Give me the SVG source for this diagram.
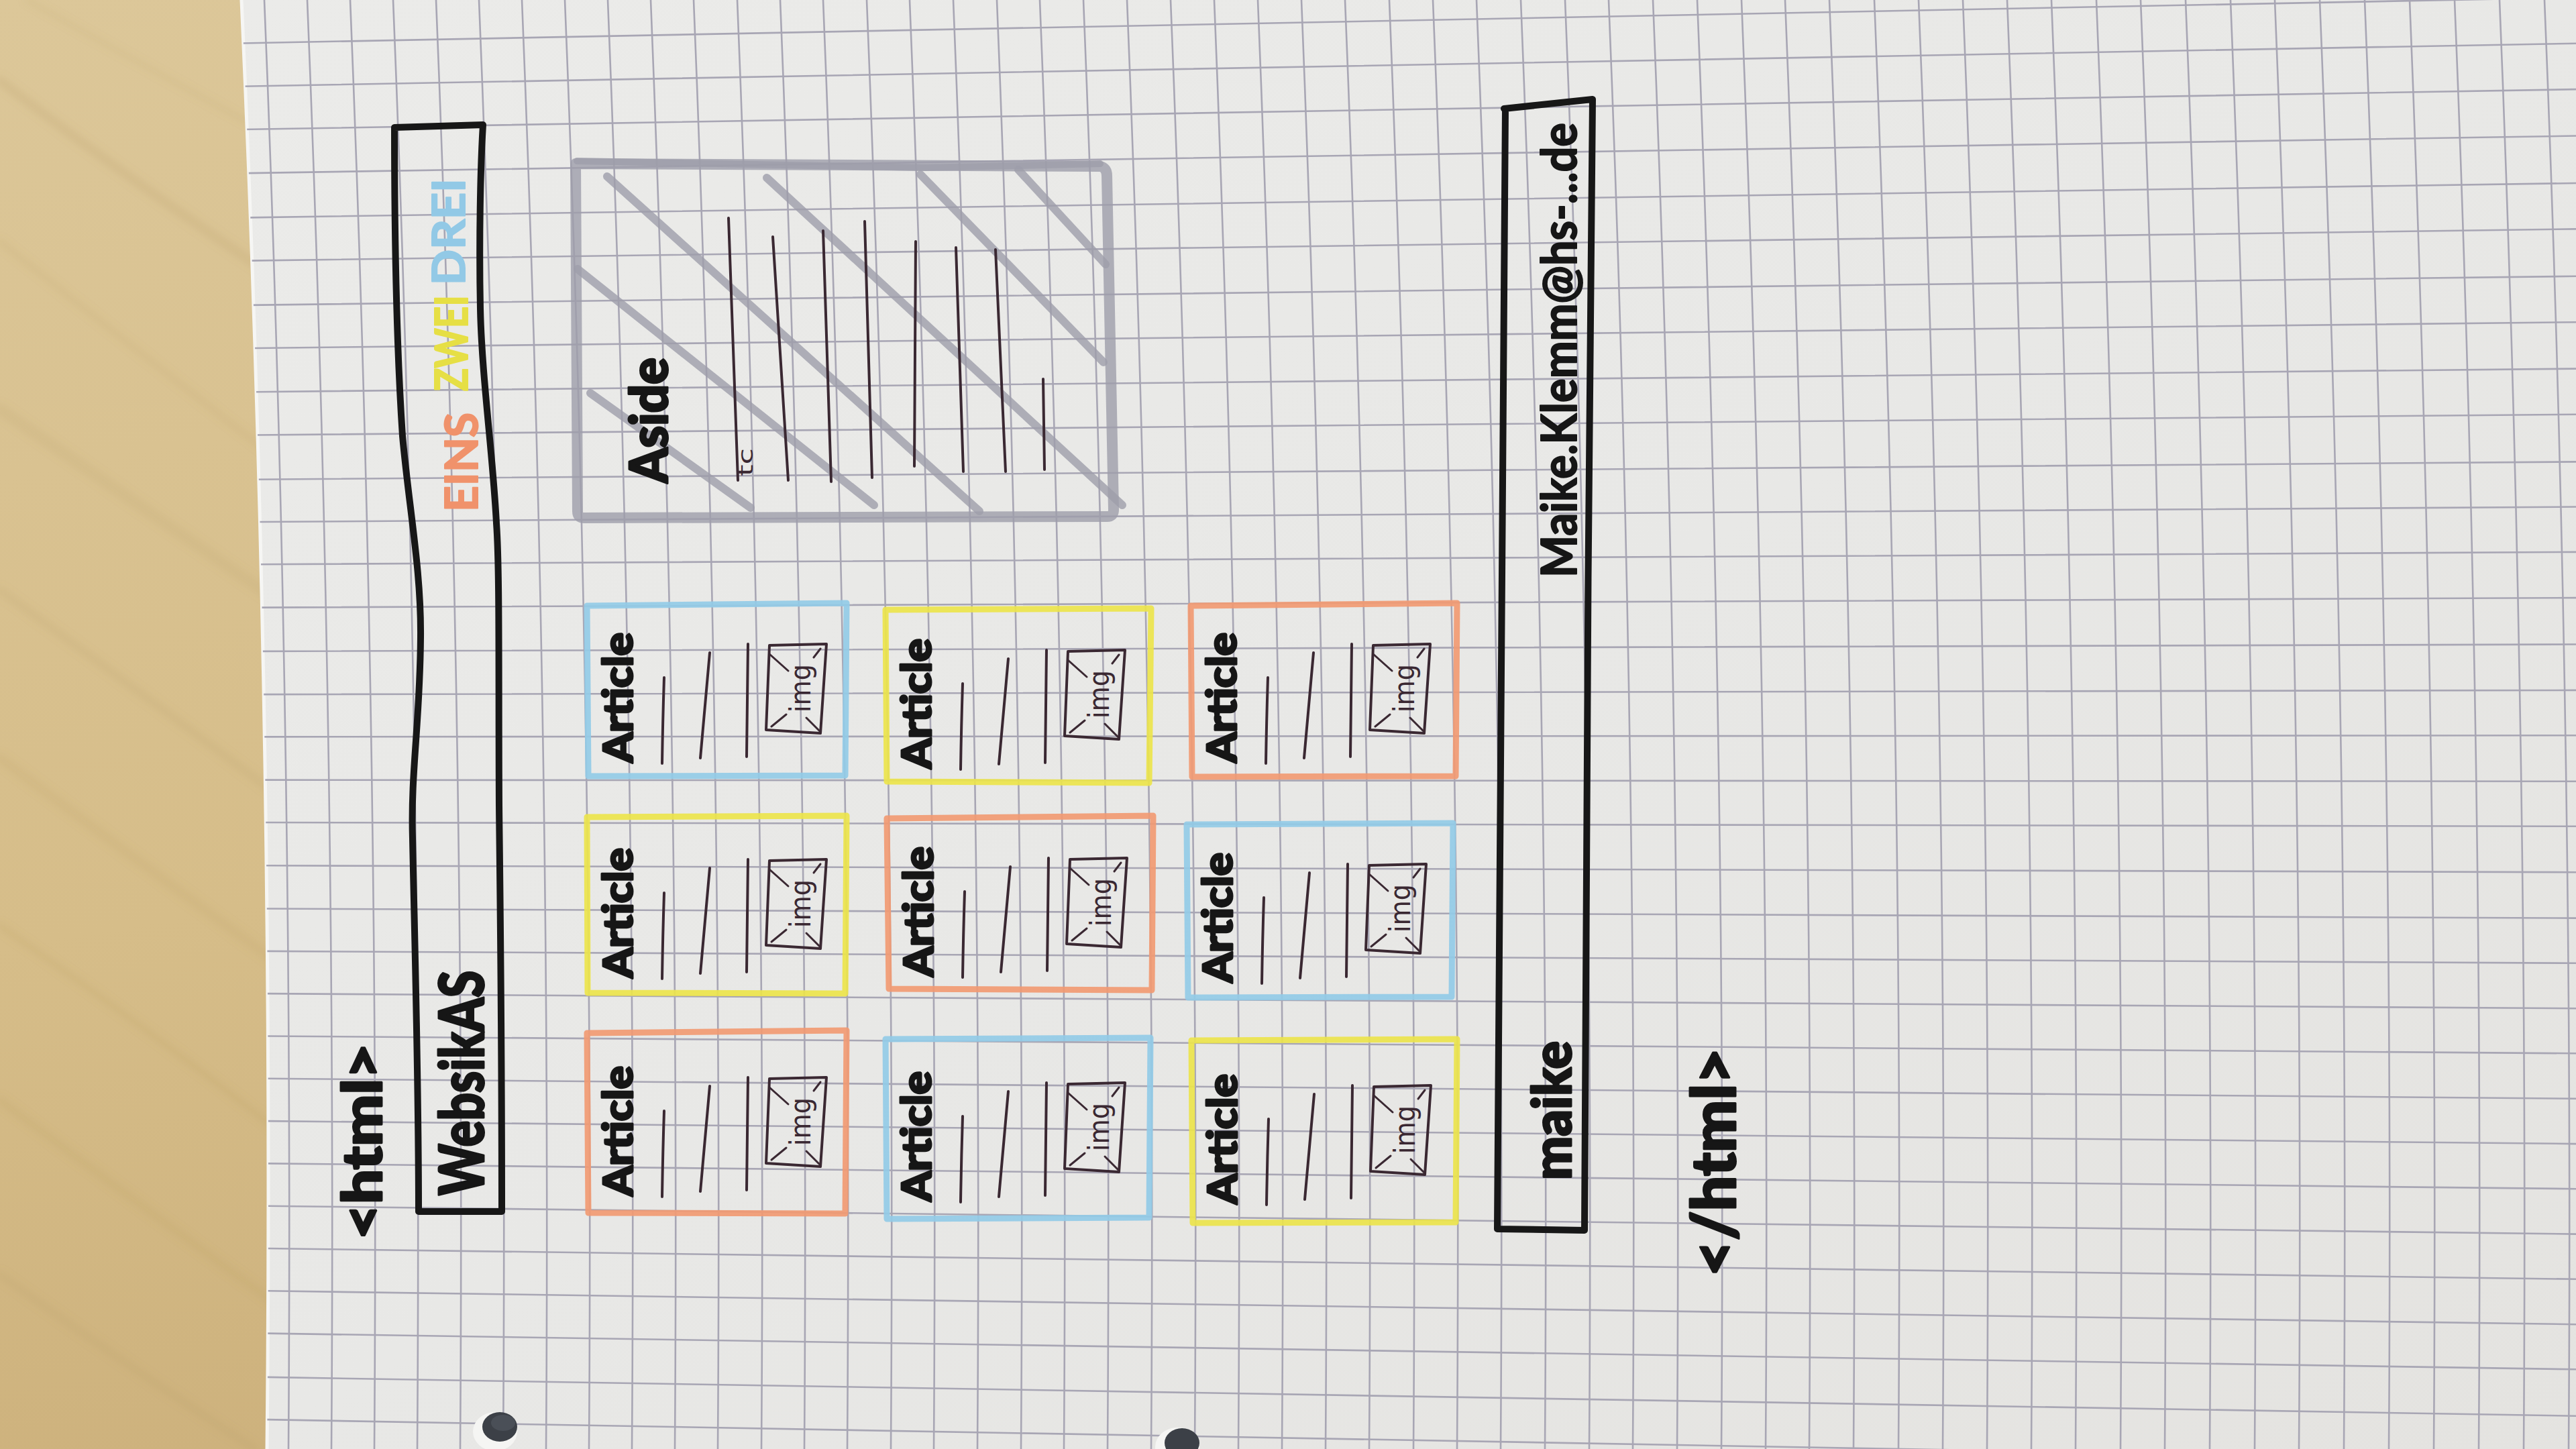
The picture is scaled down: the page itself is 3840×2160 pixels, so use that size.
<svg xmlns="http://www.w3.org/2000/svg" xmlns:xlink="http://www.w3.org/1999/xlink" width="3840" height="2160" viewBox="0 0 3840 2160">
  <defs>
    <style>
      .grid{fill:none;stroke:#a8a6b4;stroke-width:2.6}
      .grain{fill:none;stroke:#b09257;stroke-linecap:round}
      .ink{font-family:Lato,"DejaVu Sans",sans-serif;font-weight:900;fill:#161616;stroke:#161616;stroke-width:3;stroke-linejoin:round}
      .inkm{font-family:Lato,"DejaVu Sans",sans-serif;font-weight:700;fill:#161616;stroke:#161616;stroke-width:2;stroke-linejoin:round}
      .hand{font-family:"DejaVu Sans",sans-serif;font-weight:400;fill:#3a2832}
      .col{font-family:Lato,"DejaVu Sans",sans-serif;font-weight:700;stroke-width:2;stroke-linejoin:round}
      .art{font-size:60px}
      .img{font-size:42px}
      .pen{fill:none;stroke:#3a2832;stroke-width:4;stroke-linecap:round;stroke-linejoin:round}
      .thin{stroke-width:3}
      .mk{fill:none;stroke-width:9;stroke-linecap:round;stroke-linejoin:round;opacity:.92}
      .org{stroke:#f19a73}
      .yel{stroke:#ebe44c}
      .blu{stroke:#93cbe7}
      .bl{fill:none;stroke:#171717;stroke-width:10;stroke-linejoin:round;stroke-linecap:round}
      .gray{fill:none;stroke:#9e9daa;stroke-linecap:round;stroke-linejoin:round;opacity:.8}
    </style>
    <linearGradient id="woodFill" x1="0" y1="0" x2="0.3" y2="1">
      <stop offset="0" stop-color="#dcc799"/>
      <stop offset="0.6" stop-color="#d6bd89"/>
      <stop offset="1" stop-color="#ccb07b"/>
    </linearGradient>
    <linearGradient id="paperFill" x1="0" y1="0" x2="1" y2="1">
      <stop offset="0" stop-color="#ebebe9"/>
      <stop offset="0.5" stop-color="#e8e8e6"/>
      <stop offset="1" stop-color="#e4e3e0"/>
    </linearGradient>
    <filter id="soft" x="-10%" y="-10%" width="120%" height="120%">
      <feGaussianBlur stdDeviation="6"/>
    </filter>
    <clipPath id="paperClip">
      <path d="M360 0Q409 1080 398 2160L3840 2160L3840 0Z"/>
    </clipPath>
    <!-- shared inner parts of an article card: text lines and the image placeholder -->
    <g id="artBody">
      <path class="pen" d="M115 108Q113 170 112 236M183 71Q176 150 169 228M240 58L238 226"/>
      <path class="pen" d="M272 60L357 58L348 191L267 186Z"/>
      <path class="pen thin" d="M272 73L300 98M348 65L338 78M275 181L297 163M347 188L327 168"/>
    </g>
  </defs>

  <!-- desk -->
  <rect x="0" y="0" width="3840" height="2160" fill="url(#woodFill)"/>
  <g class="grain" filter="url(#soft)">
    <path d="M0 120Q180 260 420 420" stroke-width="14" opacity=".16"/>
    <path d="M0 360Q200 520 420 690" stroke-width="10" opacity=".13"/>
    <path d="M0 610Q160 720 420 900" stroke-width="18" opacity=".12"/>
    <path d="M0 880Q220 1040 420 1190" stroke-width="12" opacity=".15"/>
    <path d="M0 1130Q200 1280 420 1440" stroke-width="16" opacity=".13"/>
    <path d="M0 1380Q230 1540 420 1690" stroke-width="10" opacity=".17"/>
    <path d="M0 1640Q200 1790 420 1950" stroke-width="14" opacity=".14"/>
    <path d="M0 1900Q180 2030 380 2160" stroke-width="12" opacity=".15"/>
    <path d="M40 0Q200 90 420 210" stroke-width="8" opacity=".12"/>
  </g>

  <!-- sheet of squared paper -->
  <path d="M360 0Q409 1080 398 2160L3840 2160L3840 0Z" fill="url(#paperFill)"/>
  <path d="M360 0Q409 1080 398 2160" fill="none" stroke="#f6f6f4" stroke-width="5"/>
  <g clip-path="url(#paperClip)">
    <path class="grid" d="M394 0q44 1080 36 2160M458 0q44 1080 36 2160M522 0q44 1080 36 2160M586 0q44 1080 36 2160M650 0q44 1080 36 2160M714 0q44 1080 36 2160M778 0q44 1080 36 2160M842 0q44 1080 36 2160M906 0q44 1080 36 2160M970 0q44 1080 36 2160M1034 0q44 1080 36 2160M1099 0q44 1080 36 2160M1163 0q44 1080 36 2160M1227 0q44 1080 36 2160M1292 0q44 1080 36 2160M1356 0q44 1080 36 2160M1421 0q44 1080 36 2160M1486 0q44 1080 36 2160M1550 0q44 1080 36 2160M1615 0q44 1080 36 2160M1680 0q44 1080 36 2160M1745 0q44 1080 36 2160M1810 0q44 1080 36 2160M1875 0q44 1080 36 2160M1940 0q44 1080 36 2160M2005 0q44 1080 36 2160M2071 0q44 1080 36 2160M2136 0q44 1080 36 2160M2201 0q44 1080 36 2160M2267 0q44 1080 36 2160M2333 0q44 1080 36 2160M2398 0q44 1080 36 2160M2464 0q44 1080 36 2160M2530 0q44 1080 36 2160M2596 0q44 1080 36 2160M2661 0q44 1080 36 2160M2727 0q44 1080 36 2160M2794 0q44 1080 36 2160M2860 0q44 1080 36 2160M2926 0q44 1080 36 2160M2992 0q44 1080 36 2160M3058 0q44 1080 36 2160M3125 0q44 1080 36 2160M3191 0q44 1080 36 2160M3258 0q44 1080 36 2160M3325 0q44 1080 36 2160M3391 0q44 1080 36 2160M3458 0q44 1080 36 2160M3525 0q44 1080 36 2160M3592 0q44 1080 36 2160M3659 0q44 1080 36 2160M3726 0q44 1080 36 2160M3793 0q44 1080 36 2160"/>
    <path class="grid" d="M340 64.9L3840 -3.7M340 129.1L3840 64.7M340 193.4L3840 133.1M340 258.6L3840 202.5M340 324.8L3840 273M340 389L3840 341.4M340 455.2L3840 411.8M340 519.4L3840 480.2M340 584.6L3840 549.6M340 648.9L3840 617.7M340 715L3840 688.4M340 778.3L3840 755.5M340 841.5L3840 822.9M340 905.8L3840 891.1M340 971L3840 960.5M340 1035.2L3840 1028.9M340 1098.4L3840 1096.3M340 1162.6L3840 1164.7M340 1225.9L3840 1231.8M340 1290.1L3840 1300.2M340 1354.3L3840 1368.6M340 1417.6L3840 1435.8M340 1480.8L3840 1503.2M340 1544L3840 1570.3M340 1607.3L3840 1637.7M340 1670.5L3840 1705.1M340 1733.7L3840 1772.2M340 1797L3840 1839.6M340 1860.2L3840 1906.8M340 1923.4L3840 1974.2M340 1986.7L3840 2041.3M340 2115.1L3840 2178.1"/>
    <path class="grid" d="M340 2051.9L3840 2110.7" stroke="#97959f" stroke-width="4"/>
    <!-- punched holes -->
    <ellipse cx="738" cy="2134" rx="33" ry="29" fill="#f5f5f3"/>
    <ellipse cx="745" cy="2127" rx="26" ry="22" fill="#3c4047"/>
    <ellipse cx="750" cy="2121" rx="18" ry="12" fill="#4a4f57"/>
    <ellipse cx="1755" cy="2157" rx="33" ry="29" fill="#f5f5f3"/>
    <ellipse cx="1762" cy="2151" rx="26" ry="22" fill="#3c4047"/>
  </g>

  <text class="ink" id="html-open" font-size="82" transform="translate(569 1848) rotate(-90)" textLength="293" lengthAdjust="spacingAndGlyphs">&lt;html&gt;</text>

  <!-- header bar -->
  <g id="header">
    <path class="bl" d="M588 190C588 300 590 500 600 650C610 760 628 850 627 950C626 1080 612 1150 615 1250C618 1400 624 1600 624 1806L748 1806C748 1500 745 1300 744 1200C743 1000 745 850 740 780C735 680 718 560 716 460C714 360 716 250 720 186Z"/>
    <text class="ink" font-size="92" transform="translate(721 1782) rotate(-90)" textLength="335" lengthAdjust="spacingAndGlyphs">WebsikAS</text>
    <text class="col" font-size="66" fill="#f0926b" stroke="#f0926b" transform="translate(712 763) rotate(-90)" textLength="148" lengthAdjust="spacingAndGlyphs">EINS</text>
    <text class="col" font-size="66" fill="#e6df45" stroke="#e6df45" transform="translate(697 583) rotate(-90)" textLength="143" lengthAdjust="spacingAndGlyphs">ZWEI</text>
    <text class="col" font-size="66" fill="#92c9e6" stroke="#92c9e6" transform="translate(693 425) rotate(-90)" textLength="159" lengthAdjust="spacingAndGlyphs">DREI</text>
  </g>

  <!-- aside block -->
  <g id="aside">
    <path class="gray" stroke-width="16" d="M858 244L1640 248Q1650 250 1650 262L1660 760Q1660 770 1650 770L870 772Q861 772 861 762Z"/>
    <path class="gray" stroke-width="10" d="M860 240L1380 250L1640 244" opacity=".5"/>
    <path class="gray" stroke-width="12" d="M880 586L1119 757M861 401L1303 753M905 263L1460 762M1143 265L1673 753M1372 260L1645 540M1518 253L1648 394"/>
    <path class="pen" d="M1086 325L1100 716M1152 353L1175 716M1227 344L1239 718M1289 330L1300 712M1365 360L1363 695M1425 369L1436 703M1484 372L1499 703M1555 565L1557 700"/>
    <text class="hand" font-size="30" transform="translate(1122 710) rotate(-90)" textLength="42" lengthAdjust="spacingAndGlyphs">tc</text>
    <text class="ink" font-size="78" transform="translate(995 720) rotate(-90)" textLength="187" lengthAdjust="spacingAndGlyphs">Aside</text>
  </g>

  <!-- article cards -->
  <g id="article-1">
    <path class="mk blu" d="M875 903L1262 899L1260 1156L877 1157Z"/>
    <use href="#artBody" transform="translate(875 902)"/>
    <text class="ink art" transform="translate(943 1137) rotate(-90)" textLength="194" lengthAdjust="spacingAndGlyphs">Article</text>
    <text class="hand img" transform="translate(1208 1062) rotate(-90)" textLength="72" lengthAdjust="spacingAndGlyphs">img</text>
  </g>
  <g id="article-2">
    <path class="mk yel" d="M1320 909L1716 907L1713 1167L1322 1165Z"/>
    <use href="#artBody" transform="translate(1320 911)"/>
    <text class="ink art" transform="translate(1388 1146) rotate(-90)" textLength="194" lengthAdjust="spacingAndGlyphs">Article</text>
    <text class="hand img" transform="translate(1653 1071) rotate(-90)" textLength="72" lengthAdjust="spacingAndGlyphs">img</text>
  </g>
  <g id="article-3">
    <path class="mk org" d="M1775 903L2172 899L2170 1157L1777 1158Z"/>
    <use href="#artBody" transform="translate(1775 902)"/>
    <text class="ink art" transform="translate(1843 1137) rotate(-90)" textLength="194" lengthAdjust="spacingAndGlyphs">Article</text>
    <text class="hand img" transform="translate(2108 1062) rotate(-90)" textLength="72" lengthAdjust="spacingAndGlyphs">img</text>
  </g>
  <g id="article-4">
    <path class="mk yel" d="M875 1218L1262 1216L1260 1481L876 1480Z"/>
    <use href="#artBody" transform="translate(875 1223)"/>
    <text class="ink art" transform="translate(943 1458) rotate(-90)" textLength="194" lengthAdjust="spacingAndGlyphs">Article</text>
    <text class="hand img" transform="translate(1208 1383) rotate(-90)" textLength="72" lengthAdjust="spacingAndGlyphs">img</text>
  </g>
  <g id="article-5">
    <path class="mk org" d="M1322 1220L1719 1216L1717 1476L1325 1474Z"/>
    <use href="#artBody" transform="translate(1323 1221)"/>
    <text class="ink art" transform="translate(1391 1456) rotate(-90)" textLength="194" lengthAdjust="spacingAndGlyphs">Article</text>
    <text class="hand img" transform="translate(1656 1381) rotate(-90)" textLength="72" lengthAdjust="spacingAndGlyphs">img</text>
  </g>
  <g id="article-6">
    <path class="mk blu" d="M1769 1229L2166 1227L2164 1486L1771 1487Z"/>
    <use href="#artBody" transform="translate(1769 1230)"/>
    <text class="ink art" transform="translate(1837 1465) rotate(-90)" textLength="194" lengthAdjust="spacingAndGlyphs">Article</text>
    <text class="hand img" transform="translate(2102 1390) rotate(-90)" textLength="72" lengthAdjust="spacingAndGlyphs">img</text>
  </g>
  <g id="article-7">
    <path class="mk org" d="M875 1540L1262 1536L1260 1809L877 1808Z"/>
    <use href="#artBody" transform="translate(875 1548)"/>
    <text class="ink art" transform="translate(943 1783) rotate(-90)" textLength="194" lengthAdjust="spacingAndGlyphs">Article</text>
    <text class="hand img" transform="translate(1208 1708) rotate(-90)" textLength="72" lengthAdjust="spacingAndGlyphs">img</text>
  </g>
  <g id="article-8">
    <path class="mk blu" d="M1320 1549L1715 1547L1713 1815L1322 1817Z"/>
    <use href="#artBody" transform="translate(1320 1556)"/>
    <text class="ink art" transform="translate(1388 1791) rotate(-90)" textLength="194" lengthAdjust="spacingAndGlyphs">Article</text>
    <text class="hand img" transform="translate(1653 1716) rotate(-90)" textLength="72" lengthAdjust="spacingAndGlyphs">img</text>
  </g>
  <g id="article-9">
    <path class="mk yel" d="M1776 1551L2172 1549L2170 1822L1778 1823Z"/>
    <use href="#artBody" transform="translate(1776 1560)"/>
    <text class="ink art" transform="translate(1844 1795) rotate(-90)" textLength="194" lengthAdjust="spacingAndGlyphs">Article</text>
    <text class="hand img" transform="translate(2109 1720) rotate(-90)" textLength="72" lengthAdjust="spacingAndGlyphs">img</text>
  </g>

  <!-- footer bar -->
  <g id="footer">
    <path class="bl" stroke-width="11" d="M2244 162C2240 600 2236 1200 2232 1832L2362 1834C2364 1300 2368 700 2374 148L2242 162"/>
    <text class="inkm" font-size="72" transform="translate(2350 861) rotate(-90)" textLength="678" lengthAdjust="spacingAndGlyphs">Maike.Klemm@hs-...de</text>
    <text class="ink" font-size="80" transform="translate(2342 1759) rotate(-90)" textLength="207" lengthAdjust="spacingAndGlyphs">maike</text>
  </g>

  <text class="ink" id="html-close" font-size="92" transform="translate(2587 1903) rotate(-90)" textLength="341" lengthAdjust="spacingAndGlyphs">&lt;/html&gt;</text>

  <g id="connectors"/>
</svg>
